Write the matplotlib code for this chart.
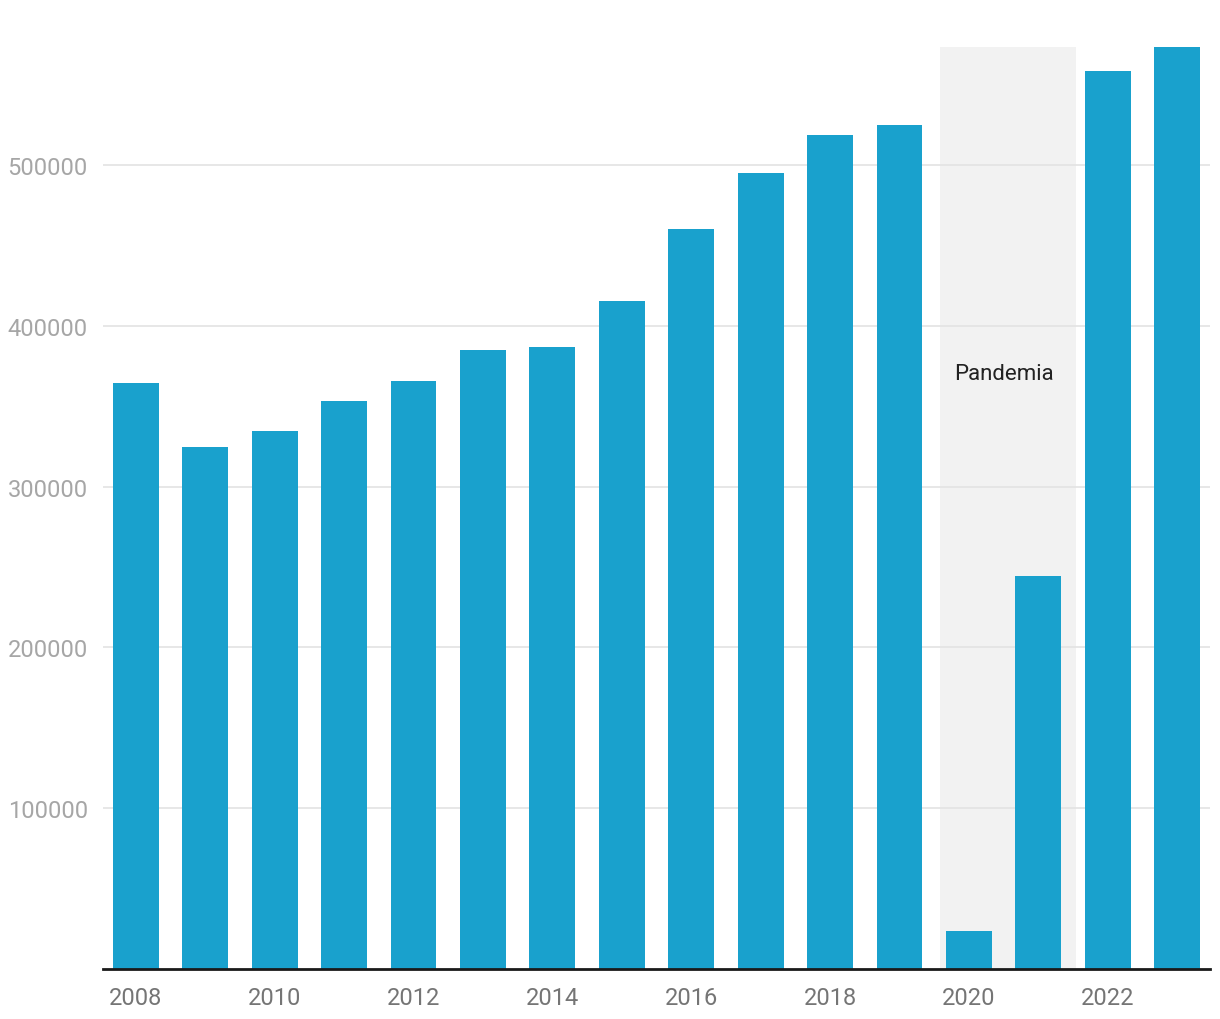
import numpy as np
import matplotlib.pyplot as plt

plt.rcParams["font.family"] = ["Roboto", "DejaVu Sans"]

years = [2008, 2009, 2010, 2011, 2012, 2013, 2014, 2015,
         2016, 2017, 2018, 2019, 2020, 2021, 2022, 2023]
values = [364300, 325000, 334400, 353000, 365500, 384800, 386700, 415300,
          460100, 495000, 518700, 524900, 23700, 244700, 558500, 573500]
yticks = [100000, 200000, 300000, 400000, 500000]
xticks = [2008, 2010, 2012, 2014, 2016, 2018, 2020, 2022]

fig = plt.figure(figsize=(12.2, 10.2), dpi=100)
ax = fig.add_axes([103 / 1220, 50 / 1020, 1107 / 1220, 922 / 1020])

# pandemic shading
ax.axvspan(2020 - 0.417, 2021 + 0.547, color="#f2f2f2", zorder=0, lw=0)
ax.bar(years, values, width=0.66, color="#19a1cd", zorder=2)
ax.text(2020.5, 370500, "Pandemia", ha="center", va="center",
        fontsize=16, color="#222222", zorder=3)

ax.set_xlim(2008 - 0.475, 2023 + 0.475)
ax.set_ylim(0, 573500)
ax.set_yticks(yticks)
ax.set_yticklabels([str(v) for v in yticks])
ax.set_xticks(xticks)
ax.grid(axis="y", color="#e3e3e3", lw=1.2, zorder=1)
ax.set_axisbelow(True)
ax.tick_params(axis="y", length=0, pad=11, labelsize=17, labelcolor="#a6a6a6")
ax.tick_params(axis="x", length=0, pad=12, labelsize=17, labelcolor="#757575")
for s in ["top", "right", "left"]:
    ax.spines[s].set_visible(False)
ax.spines["bottom"].set_color("#1a1a1a")
ax.spines["bottom"].set_linewidth(2)
ax.spines["bottom"].set_zorder(4)

plt.savefig("out.png", dpi=100)
